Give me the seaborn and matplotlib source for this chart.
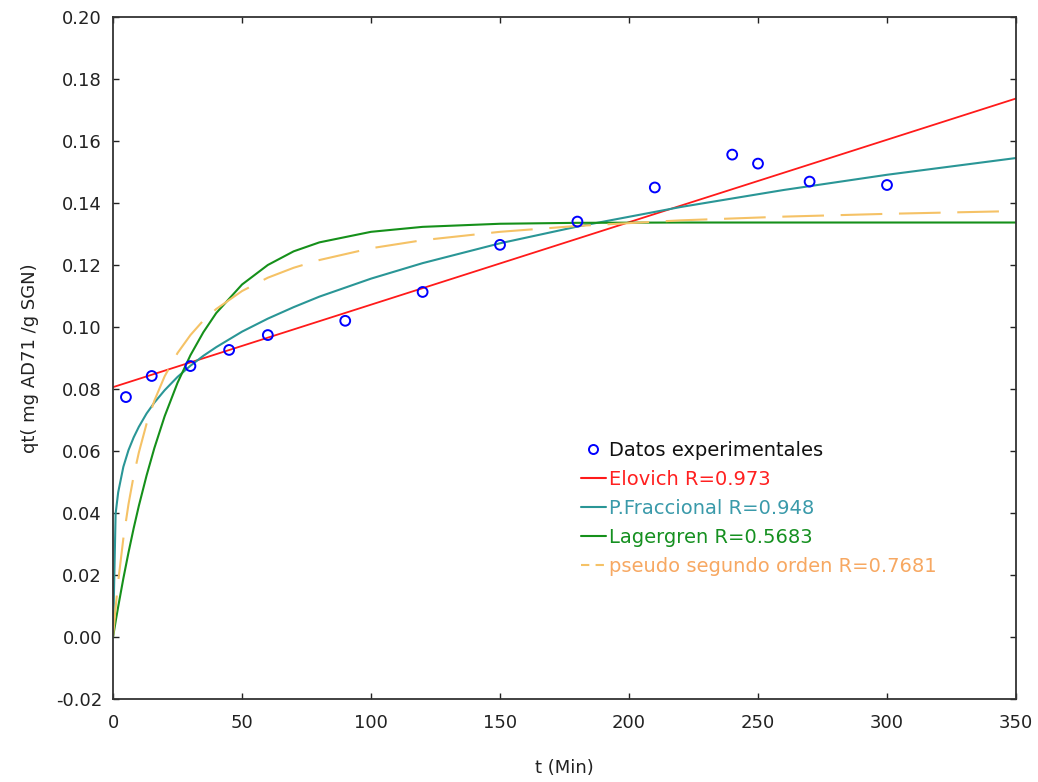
import numpy as np
import pandas as pd
import matplotlib
matplotlib.use("Agg")
import matplotlib.pyplot as plt
from matplotlib.lines import Line2D
import seaborn as sns

# Experimental points (t in min, qt in mg/g)
t_exp = [5, 15, 30, 45, 60, 90, 120, 150, 180, 210, 240, 250, 270, 300]
q_exp = [0.0774, 0.0842, 0.0874, 0.0926, 0.0974, 0.1020, 0.1113, 0.1265,
         0.1340, 0.1450, 0.1556, 0.1527, 0.1469, 0.1458]

# Model curves
t_elov = [0, 350]
q_elov = [0.0806, 0.1737]

t_mod = [0, 1, 2, 4, 6, 8, 10, 13, 16, 20, 25, 30, 35, 40, 50, 60, 70, 80,
         100, 120, 150, 180, 220, 260, 300, 350]
q_frac = [0.0, 0.0398, 0.0467, 0.0549, 0.0603, 0.0644, 0.0678, 0.0721,
          0.0756, 0.0796, 0.0839, 0.0875, 0.0907, 0.0935, 0.0985, 0.1027,
          0.1064, 0.1098, 0.1156, 0.1206, 0.1270, 0.1324, 0.1387, 0.1442,
          0.1491, 0.1545]
q_lag = [0.0, 0.0050, 0.0098, 0.0189, 0.0273, 0.0351, 0.0423, 0.0521,
         0.0609, 0.0712, 0.0820, 0.0909, 0.0983, 0.1045, 0.1137, 0.1200,
         0.1244, 0.1273, 0.1307, 0.1323, 0.1333, 0.1336, 0.1337, 0.1337,
         0.1337, 0.1337]
q_pso = [0.0, 0.0095, 0.0179, 0.0318, 0.0429, 0.0520, 0.0595, 0.0688,
         0.0762, 0.0841, 0.0916, 0.0974, 0.1021, 0.1058, 0.1116, 0.1159,
         0.1191, 0.1216, 0.1254, 0.1280, 0.1307, 0.1326, 0.1344, 0.1356,
         0.1365, 0.1374]

labels = ["Datos experimentales", "Elovich R=0.973", "P.Fraccional R=0.948",
          "Lagergren R=0.5683", "pseudo segundo orden R=0.7681"]

C_BLUE = "#0000ff"
C_RED = "#ff1a1a"
C_TEAL = "#2a9696"
C_GREEN = "#15901a"
C_ORANGE = "#f5c266"

sns.set_theme(style="ticks")
plt.rcParams['font.family'] = ['DejaVu Sans']

fig = plt.figure(figsize=(10.38, 7.82), dpi=100)
ax = fig.add_axes([0.1089, 0.1061, 0.8699, 0.8722])

sns.lineplot(x=t_elov, y=q_elov, color=C_RED, lw=1.3, ax=ax)
sns.lineplot(x=t_mod, y=q_frac, color=C_TEAL, lw=1.5, ax=ax)
sns.lineplot(x=t_mod, y=q_lag, color=C_GREEN, lw=1.5, ax=ax)
sns.lineplot(x=t_mod, y=q_pso, color=C_ORANGE, lw=1.5, ax=ax,
             linestyle=(0, (20, 8)))
sns.scatterplot(x=t_exp, y=q_exp, marker="o", s=50, facecolor="none",
                edgecolor=C_BLUE, linewidth=1.4, ax=ax, zorder=5)

ax.set_xlim(0, 350)
ax.set_ylim(-0.02, 0.20)
ax.set_xticks(np.arange(0, 351, 50))
ax.set_yticks(np.arange(-0.02, 0.201, 0.02))
ax.set_yticklabels([f"{v:.2f}" for v in np.arange(-0.02, 0.201, 0.02)])
ax.tick_params(direction="in", length=4, width=1, top=True, right=True,
               labelsize=13, colors="#222222", pad=8)
ax.tick_params(axis="x", pad=11)
for sp in ax.spines.values():
    sp.set_color("#333333")
    sp.set_linewidth(1.3)

ax.set_xlabel("t (Min)", fontsize=13, color="#222222", labelpad=19)
ax.set_ylabel("qt( mg AD71 /g SGN)", fontsize=13, color="#222222", labelpad=12)

handles = [
    Line2D([], [], ls="none", marker="o", markersize=6.5, markerfacecolor="none",
           markeredgecolor=C_BLUE, markeredgewidth=1.4),
    Line2D([], [], color=C_RED, lw=1.5),
    Line2D([], [], color=C_TEAL, lw=1.5),
    Line2D([], [], color=C_GREEN, lw=1.5),
    Line2D([], [], color=C_ORANGE, lw=1.5, ls=(0, (4, 3))),
]
leg = ax.legend(handles, labels, loc="upper left", bbox_to_anchor=(0.51, 0.39),
                frameon=False, fontsize=14, handlelength=1.25,
                handletextpad=0.15, labelspacing=0.52, borderaxespad=0)
text_colors = ["#111111", "#ff2020", "#3a9aaa", "#159020", "#f7a862"]
for txt, c in zip(leg.get_texts(), text_colors):
    txt.set_color(c)

fig.savefig("out.png", dpi=100)
